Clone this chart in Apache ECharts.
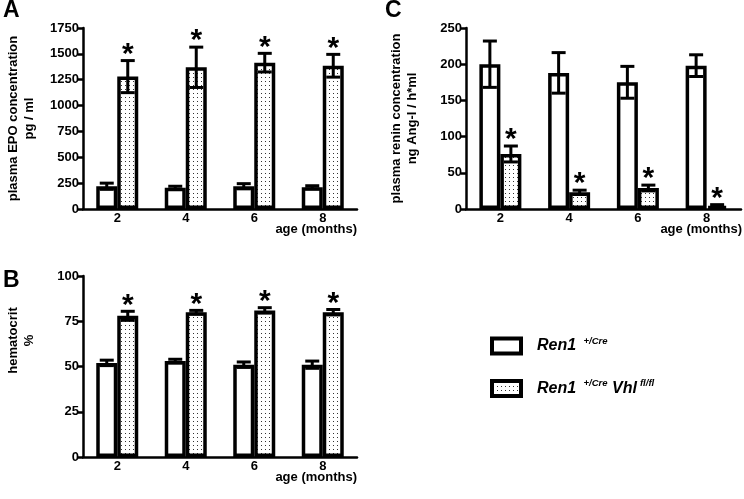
<!DOCTYPE html>
<html>
<head>
<meta charset="utf-8">
<script src="https://cdn.jsdelivr.net/npm/echarts@6.0.0/dist/echarts.min.js"></script>
<style>
  html, body { margin: 0; padding: 0; background: #fff; }
  #main { width: 744px; height: 499px; }
</style>
</head>
<body>
<div id="main"></div>
<script>
const ages = ["2", "4", "6", "8"];

// A: plasma EPO (pg/ml)
const epoCre = [220, 205, 220, 210];
const epoCreSd = [30, 15, 25, 15];
const epoVhl = [1280, 1370, 1415, 1385];
const epoVhlSd = [155, 195, 90, 110];

// B: hematocrit (%)
const hctCre = [52, 53, 51, 51];
const hctCreSd = [1.5, 1, 1.5, 2];
const hctVhl = [78, 80, 81, 80];
const hctVhlSd = [2.5, 1, 1.5, 1.5];

// C: plasma renin (ng Ang-I / h*ml)
const reninCre = [200, 188, 175, 198];
const reninCreSd = [32, 28, 22, 15];
const reninVhl = [76, 23, 29, 4];
const reninVhlSd = [11, 3, 4, 2];

const nameCre = "Ren1 +/Cre";
const nameVhl = "Ren1 +/Cre Vhl fl/fl";

const FONT = "Liberation Sans, Arial, sans-serif";
const BAR_W = 21;
const CAP = 14;

// dotted fill
let dots = document.createElement("canvas");
dots.width = 4;
dots.height = 4;
let dctx = dots.getContext("2d");
dctx.fillStyle = "#fff";
dctx.fillRect(0, 0, 4, 4);
dctx.fillStyle = "#333";
dctx.fillRect(1, 1, 1, 1);
const dotFill = { image: dots, repeat: "repeat" };

function xAxis(grid) {
  return {
    type: "category",
    gridIndex: grid,
    data: ages,
    axisLine: { lineStyle: { color: "#000", width: 2.5 } },
    axisTick: { alignWithLabel: true, length: 5, lineStyle: { color: "#000", width: 2.5 } },
    axisLabel: { margin: 3, fontFamily: FONT, fontWeight: "bold", fontSize: 13, color: "#000" },
    splitLine: { show: false },
  };
}

function yAxis(grid, max, interval, nameStr, pad) {
  return {
    type: "value",
    gridIndex: grid,
    min: 0,
    max: max,
    interval: interval,
    name: nameStr,
    nameLocation: "middle",
    nameRotate: 90,
    nameGap: 46,
    nameTextStyle: {
      fontFamily: FONT,
      fontWeight: "bold",
      fontSize: 13,
      color: "#000",
      lineHeight: 16,
      padding: pad || 0,
    },
    axisLine: { show: true, lineStyle: { color: "#000", width: 2.5 } },
    axisTick: { show: true, length: 5, lineStyle: { color: "#000", width: 2.5 } },
    axisLabel: {
      margin: 4,
      fontFamily: FONT,
      fontWeight: "bold",
      fontSize: 13,
      color: "#000",
      formatter: function (v) {
        return String(v);
      },
    },
    splitLine: { show: false },
  };
}

function barSeries(name, values, grid, fill) {
  return {
    name: name,
    type: "bar",
    xAxisIndex: grid,
    yAxisIndex: grid,
    data: values,
    barWidth: BAR_W,
    barGap: 0,
    itemStyle: { color: fill, borderColor: "#000", borderWidth: 3.5 },
    emphasis: { disabled: true },
    silent: true,
  };
}

function errSeries(means, sds, grid, side, star) {
  return {
    type: "custom",
    name: "err" + grid + side,
    xAxisIndex: grid,
    yAxisIndex: grid,
    z: 5,
    silent: true,
    data: means.map(function (m, i) {
      return [i, m, sds[i]];
    }),
    renderItem: function (params, api) {
      let i = api.value(0);
      let m = api.value(1);
      let sd = api.value(2);
      let top = api.coord([i, m + sd]);
      let bot = api.coord([i, m - sd]);
      let x = top[0] + side * BAR_W / 2;
      let st = { stroke: "#000", lineWidth: 3 };
      let children = [
        { type: "line", shape: { x1: x, y1: top[1], x2: x, y2: bot[1] }, style: st },
        { type: "line", shape: { x1: x - CAP / 2, y1: top[1], x2: x + CAP / 2, y2: top[1] }, style: st },
        { type: "line", shape: { x1: x - CAP / 2, y1: bot[1], x2: x + CAP / 2, y2: bot[1] }, style: st },
      ];
      if (star) {
        children.push({
          type: "text",
          style: {
            text: "*",
            x: x,
            y: top[1] - 6,
            align: "center",
            verticalAlign: "middle",
            font: "bold 30px " + FONT,
            fill: "#000",
          },
        });
      }
      return { type: "group", children: children };
    },
  };
}

function ageLabel(right, top) {
  return {
    type: "text",
    right: right,
    top: top,
    style: { text: "age (months)", font: "bold 13px " + FONT, fill: "#000" },
  };
}

let chartDom = document.getElementById("main");
let myChart = echarts.init(chartDom, null, { renderer: "canvas" });
let option;

option = {
  animation: false,
  backgroundColor: "#fff",
  grid: [
    { left: 83, top: 28, width: 274, height: 181, outerBoundsMode: "none" },
    { left: 83, top: 276, width: 274, height: 181, outerBoundsMode: "none" },
    { left: 466, top: 28, width: 275, height: 181, outerBoundsMode: "none" },
  ],
  xAxis: [xAxis(0), xAxis(1), xAxis(2)],
  yAxis: [
    yAxis(0, 1750, 250, "plasma EPO concentration\npg / ml"),
    yAxis(1, 100, 25, "hematocrit\n%", [0, 0, 0, 52]),
    yAxis(2, 250, 50, "plasma renin concentration\nng Ang-I / h*ml"),
  ],
  legend: {
    orient: "vertical",
    left: 490,
    top: 336,
    padding: 0,
    itemGap: 23,
    itemWidth: 29,
    itemHeight: 15,
    icon: "rect",
    selectedMode: false,
    data: [nameCre, nameVhl],
    itemStyle: { borderColor: "#000", borderWidth: 4 },
    formatter: function (name) {
      if (name === nameCre) {
        return "{g|}{a|Ren1} {s|+/Cre}";
      }
      return "{g|}{a|Ren1} {s|+/Cre} {a|Vhl}{s|fl/fl}";
    },
    textStyle: {
      fontFamily: FONT,
      fontSize: 16,
      fontWeight: "bold",
      fontStyle: "italic",
      color: "#000",
      rich: {
        g: { width: 11 },
        a: {
          fontFamily: FONT,
          fontSize: 16,
          fontWeight: "bold",
          fontStyle: "italic",
          lineHeight: 20,
          color: "#000",
        },
        s: {
          fontFamily: FONT,
          fontSize: 9.5,
          fontWeight: "bold",
          fontStyle: "italic",
          verticalAlign: "top",
          lineHeight: 12,
          padding: [0, 0, 0, 3],
          color: "#000",
        },
      },
    },
  },
  graphic: [
    { type: "text", left: 3, top: -1, style: { text: "A", font: "bold 23px " + FONT, fill: "#000" } },
    { type: "text", left: 3, top: 269, style: { text: "B", font: "bold 23px " + FONT, fill: "#000" } },
    { type: "text", left: 385, top: -1, style: { text: "C", font: "bold 23px " + FONT, fill: "#000" } },
    ageLabel(387, 223),
    ageLabel(387, 471),
    ageLabel(2, 223),
  ],
  series: [
    barSeries(nameCre, epoCre, 0, "#fff"),
    barSeries(nameVhl, epoVhl, 0, dotFill),
    errSeries(epoCre, epoCreSd, 0, -1, false),
    errSeries(epoVhl, epoVhlSd, 0, 1, true),

    barSeries(nameCre, hctCre, 1, "#fff"),
    barSeries(nameVhl, hctVhl, 1, dotFill),
    errSeries(hctCre, hctCreSd, 1, -1, false),
    errSeries(hctVhl, hctVhlSd, 1, 1, true),

    barSeries(nameCre, reninCre, 2, "#fff"),
    barSeries(nameVhl, reninVhl, 2, dotFill),
    errSeries(reninCre, reninCreSd, 2, -1, false),
    errSeries(reninVhl, reninVhlSd, 2, 1, true),
  ],
};

option && myChart.setOption(option);
</script>
</body>
</html>
